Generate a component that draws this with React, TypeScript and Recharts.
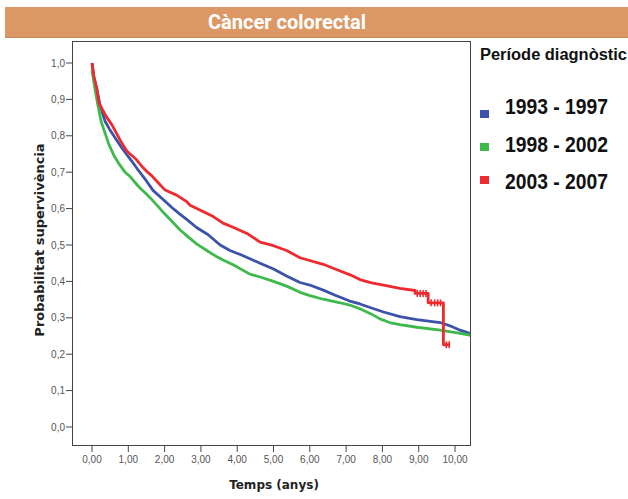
import React from 'react';
import { LineChart, Line, XAxis, YAxis, Label } from 'recharts';

const chartTitle = 'Càncer colorectal';
const legendTitle = 'Període diagnòstic';
const xAxisTitle = 'Temps (anys)';
const yAxisTitle = 'Probabilitat supervivència';

const seriesNames = ['1993 - 1997', '1998 - 2002', '2003 - 2007'];
const seriesColors = ['#3b53a8', '#3dba4b', '#ee2a2f'];

const blueTimes = [0, 0.05, 0.13, 0.22, 0.36, 0.5, 0.63, 0.8, 0.96, 1.1, 1.27, 1.5, 1.68, 1.96, 2.2, 2.42, 2.6, 2.88, 3.2, 3.53, 3.8, 4.1, 4.35, 4.63, 5.0, 5.36, 5.73, 6.0, 6.37, 6.7, 7.1, 7.38, 7.7, 8.03, 8.48, 8.95, 9.59, 9.86, 10.14, 10.44];
const blueSurv = [1.0, 0.96, 0.93, 0.885, 0.84, 0.815, 0.795, 0.77, 0.748, 0.73, 0.706, 0.676, 0.65, 0.625, 0.603, 0.585, 0.571, 0.548, 0.528, 0.5, 0.485, 0.473, 0.462, 0.45, 0.434, 0.415, 0.397, 0.39, 0.376, 0.362, 0.346, 0.338, 0.327, 0.316, 0.303, 0.295, 0.287, 0.278, 0.266, 0.256];

const greenTimes = [0, 0.04, 0.08, 0.16, 0.25, 0.35, 0.47, 0.62, 0.75, 0.91, 1.05, 1.27, 1.37, 1.5, 1.6, 1.8, 1.96, 2.2, 2.42, 2.64, 2.88, 3.16, 3.4, 3.61, 3.9, 4.35, 4.63, 5.0, 5.36, 5.73, 6.0, 6.37, 6.8, 7.1, 7.38, 7.7, 7.93, 8.2, 8.48, 8.95, 9.59, 10.1, 10.44];
const greenSurv = [0.98, 0.955, 0.93, 0.885, 0.84, 0.81, 0.775, 0.743, 0.722, 0.7, 0.688, 0.662, 0.652, 0.64, 0.63, 0.608, 0.59, 0.565, 0.542, 0.523, 0.503, 0.485, 0.47, 0.459, 0.445, 0.42, 0.412, 0.4, 0.387, 0.37, 0.361, 0.351, 0.342, 0.335, 0.325, 0.31, 0.297, 0.287, 0.281, 0.274, 0.266, 0.258, 0.252];

const redTimes = [0, 0.05, 0.13, 0.19, 0.3, 0.4, 0.55, 0.68, 0.82, 0.96, 1.05, 1.2, 1.41, 1.5, 1.65, 1.78, 2.0, 2.15, 2.33, 2.6, 2.7, 3.0, 3.34, 3.61, 3.9, 4.3, 4.63, 5.0, 5.36, 5.73, 6.37, 6.8, 7.11, 7.38, 7.7, 8.03, 8.48, 8.9, 8.9, 9.26, 9.26, 9.68, 9.68, 9.86];
const redSurv = [1.0, 0.965, 0.93, 0.89, 0.87, 0.852, 0.83, 0.806, 0.78, 0.758, 0.75, 0.737, 0.712, 0.703, 0.69, 0.676, 0.652, 0.645, 0.637, 0.62, 0.609, 0.595, 0.578, 0.56, 0.548, 0.53, 0.508, 0.498, 0.485, 0.465, 0.447, 0.43, 0.418, 0.405, 0.396, 0.39, 0.381, 0.375, 0.367, 0.367, 0.341, 0.341, 0.226, 0.226];

const redCensorTimes = [8.96, 9.04, 9.12, 9.2, 9.34, 9.44, 9.52, 9.6, 9.76, 9.84];

const xTicks = [0, 1, 2, 3, 4, 5, 6, 7, 8, 9, 10];
const yTicks = [0, 0.1, 0.2, 0.3, 0.4, 0.5, 0.6, 0.7, 0.8, 0.9, 1.0];

const toRows = (times: number[], surv: number[]) => times.map((t, i) => ({ t, s: surv[i] }));
const seriesData = [toRows(blueTimes, blueSurv), toRows(greenTimes, greenSurv), toRows(redTimes, redSurv)];

// value of the step curve at a censoring time (last value at or before it)
const stepValueAt = (times: number[], surv: number[], ct: number) => {
  let v = surv[0];
  for (let i = 0; i < times.length; i++) if (times[i] <= ct) v = surv[i];
  return v;
};
const redCensorRows = redCensorTimes.map((t) => ({ t, s: stepValueAt(redTimes, redSurv, t) }));

const W = 628;
const H = 499;
const plot = { left: 72, top: 41, right: 471, bottom: 446 };

const CensorTick = (props: any) => {
  const { cx, cy, stroke } = props;
  if (cx == null || cy == null) return null;
  return <line x1={cx} x2={cx} y1={cy - 3.5} y2={cy + 3.5} stroke={stroke} strokeWidth={1.6} />;
};

export default function App() {
  return (
    <div style={{ position: 'absolute', left: 0, top: 0, width: W, height: H, background: '#ffffff', overflow: 'hidden' }}>
      <div style={{ position: 'absolute', left: 5, top: 7, width: 623, height: 31, background: '#db9865', borderBottom: '1px solid #c9875a', boxSizing: 'border-box' }} />
      <div style={{ position: 'absolute', left: 287, top: 7, height: 31, lineHeight: '31px', transform: 'translateX(-50%)', color: '#ffffff', fontFamily: 'Roboto, "Liberation Sans", sans-serif', fontWeight: 700, fontSize: 20, whiteSpace: 'nowrap' }}>
        {chartTitle}
      </div>
      <div style={{ position: 'absolute', left: 0, top: 0 }}>
        <LineChart width={W} height={H} margin={{ top: plot.top, right: W - plot.right, bottom: 13, left: plot.left - 40 }}>
          <XAxis
            dataKey="t"
            type="number"
            domain={[-0.551, 10.44]}
            ticks={xTicks}
            allowDataOverflow
            height={40}
            axisLine={false}
            tickLine={{ stroke: '#444' }}
            tickSize={6}
            tickMargin={4}
            tick={{ fill: '#555', fontSize: 10, fontFamily: '"Liberation Sans", Arial, sans-serif' }}
            tickFormatter={(v: number) => v.toFixed(2).replace('.', ',')}
          >
            <Label
              content={() => (
                <text x={274} y={489} textAnchor="middle" fontFamily='"DejaVu Sans", sans-serif' fontWeight={700} fontSize={12} fill="#222">
                  {xAxisTitle}
                </text>
              )}
            />
          </XAxis>
          <YAxis
            type="number"
            domain={[-0.0522, 1.0604]}
            ticks={yTicks}
            allowDataOverflow
            width={40}
            axisLine={false}
            tickLine={{ stroke: '#444' }}
            tickSize={6}
            tickMargin={1}
            tick={{ fill: '#555', fontSize: 10, fontFamily: '"Liberation Sans", Arial, sans-serif' }}
            tickFormatter={(v: number) => v.toFixed(1).replace('.', ',')}
          >
            <Label
              content={() => (
                <text transform="translate(44,240) rotate(-90)" textAnchor="middle" fontFamily='"DejaVu Sans", sans-serif' fontWeight={700} fontSize={13} fill="#222">
                  {yAxisTitle}
                </text>
              )}
            />
          </YAxis>
          {seriesData.map((rows, i) => (
            <Line
              key={seriesNames[i]}
              data={rows}
              dataKey="s"
              name={seriesNames[i]}
              type="linear"
              stroke={seriesColors[i]}
              strokeWidth={2.8}
              strokeLinejoin="round"
              dot={false}
              activeDot={false}
              isAnimationActive={false}
            />
          ))}
          <Line
            data={redCensorRows}
            dataKey="s"
            name="censored"
            stroke="none"
            fill={seriesColors[2]}
            dot={(p: any) => <CensorTick key={`c${p.index}`} {...p} stroke={seriesColors[2]} />}
            activeDot={false}
            legendType="none"
            isAnimationActive={false}
          />
        </LineChart>
      </div>
      <div style={{ position: 'absolute', left: plot.left, top: plot.top, width: plot.right - plot.left, height: plot.bottom - plot.top, border: '1px solid #444', boxSizing: 'border-box', pointerEvents: 'none' }} />
      <svg width={W} height={H} style={{ position: 'absolute', left: 0, top: 0, pointerEvents: 'none' }}>
        <text x={480} y={60} fontFamily='"Liberation Sans", Arial, sans-serif' fontWeight={700} fontSize={16} fill="#111" textLength={147} lengthAdjust="spacingAndGlyphs">
          {legendTitle}
        </text>
        {seriesNames.map((name, i) => (
          <g key={name}>
            <rect x={480} y={110 + i * 33} width={9} height={8} fill={seriesColors[i]} />
            <text x={505} y={114 + i * 37.5} fontFamily='"Liberation Sans", Arial, sans-serif' fontWeight={700} fontSize={22} fill="#111" textLength={103} lengthAdjust="spacingAndGlyphs">
              {name}
            </text>
          </g>
        ))}
      </svg>
    </div>
  );
}
